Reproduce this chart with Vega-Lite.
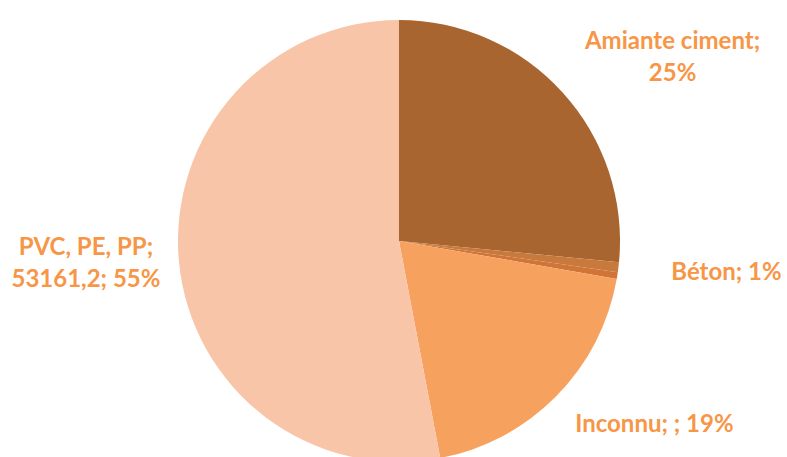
{
  "$schema": "https://vega.github.io/schema/vega-lite/v6.json",
  "autosize": "none",
  "padding": 0,
  "width": 798,
  "height": 482,
  "background": "white",
  "view": {"stroke": null},
  "config": {"text": {"font": "Lato", "fontWeight": "bold", "fontSize": 24, "lineBreak": "\n", "lineHeight": 32}},
  "data": {
    "values": [
      {"category": "Amiante ciment", "value": 26615, "order": 1, "label": "Amiante ciment;\n25%"},
      {"category": "Béton", "value": 724, "order": 2, "label": "Béton; 1%"},
      {"category": "Autre", "value": 502, "order": 3, "label": ""},
      {"category": "Inconnu", "value": 19327, "order": 4, "label": "Inconnu; ; 19%"},
      {"category": "PVC, PE, PP", "value": 53161.2, "order": 5, "label": "PVC, PE, PP;\n53161,2; 55%"}
    ]
  },
  "encoding": {
    "theta": {"field": "value", "type": "quantitative", "stack": true},
    "order": {"field": "order", "type": "quantitative"}
  },
  "layer": [
    {
      "mark": {"type": "arc", "outerRadius": 221, "stroke": null},
      "encoding": {
        "color": {
          "field": "category", "type": "nominal", "legend": null,
          "scale": {
            "domain": ["Amiante ciment", "Béton", "Autre", "Inconnu", "PVC, PE, PP"],
            "range": ["#A8652F", "#C77A3C", "#D07537", "#F7A15F", "#F8C5A8"]
          }
        }
      }
    },
    {
      "mark": {"type": "text", "radius": 221, "dx": 110, "dy": -50, "align": "center", "baseline": "middle", "color": "#F79646"},
      "encoding": {"text": {"condition": {"test": "datum.category === 'Amiante ciment'", "field": "label"}, "value": ""}}
    },
    {
      "mark": {"type": "text", "radius": 221, "dx": 108, "dy": 6, "align": "center", "baseline": "middle", "color": "#F79646"},
      "encoding": {"text": {"condition": {"test": "datum.category === 'Béton'", "field": "label"}, "value": ""}}
    },
    {
      "mark": {"type": "text", "radius": 221, "dx": 98, "dy": 29, "align": "center", "baseline": "middle", "color": "#F79646"},
      "encoding": {"text": {"condition": {"test": "datum.category === 'Inconnu'", "field": "label"}, "value": ""}}
    },
    {
      "mark": {"type": "text", "radius": 221, "dx": -93, "dy": -14, "align": "center", "baseline": "middle", "color": "#F79646"},
      "encoding": {"text": {"condition": {"test": "datum.category === 'PVC, PE, PP'", "field": "label"}, "value": ""}}
    }
  ]
}
